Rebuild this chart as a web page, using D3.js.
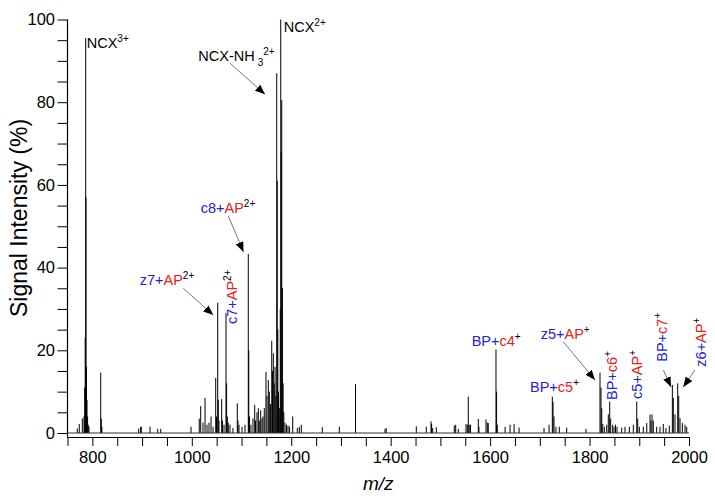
<!DOCTYPE html>
<html>
<head>
<meta charset="utf-8">
<script src="https://cdn.jsdelivr.net/npm/d3@7"></script>
<style>
  html, body { margin: 0; padding: 0; background: #fff; }
  svg { display: block; font-family: "Liberation Sans", Arial, sans-serif; }
</style>
</head>
<body>
<svg id="chart" width="715" height="499"></svg>
<script>
// ---------------- DATA ----------------
const peakMz = [
  769.7, 773.7, 779.8, 783.2, 784.6, 785.6, 786.6, 787.2, 788.2, 789.2, 790.4, 791.8, 793.2,
  816.8, 818.0, 819.2, 893.2, 897.2, 898.4, 916.0, 931.4, 937.5, 998.4, 1015.0,
  1017.9, 1022.5, 1026.6, 1030.6, 1034.6, 1038.7, 1042.7, 1048.1, 1049.7, 1052.1, 1053.3, 1054.7,
  1060.1, 1061.7, 1064.8, 1068.8, 1070.0, 1071.4, 1073.4, 1076.8, 1082.8, 1091.5, 1092.9, 1094.9,
  1101.0, 1107.0, 1113.6, 1114.6, 1116.0, 1119.0, 1123.0, 1126.5, 1128.1, 1131.1, 1133.8, 1135.8,
  1138.6, 1141.2, 1143.2, 1145.8, 1149.2, 1151.2, 1153.9, 1155.9, 1158.4, 1160.8, 1162.4, 1164.0,
  1165.8, 1167.4, 1169.0, 1170.8, 1171.8, 1173.0, 1174.4, 1176.1, 1177.9, 1178.9, 1179.9, 1180.9,
  1182.3, 1183.7, 1185.1, 1187.5, 1190.5, 1193.5, 1196.5, 1203.0, 1212.2, 1216.2, 1220.2,
  1262.5, 1296.7, 1329.3, 1388.6, 1391.0, 1451.5, 1471.6, 1481.1, 1482.3, 1484.5, 1491.8,
  1528.0, 1530.8, 1536.0, 1551.5, 1554.1, 1556.1, 1557.9, 1560.6, 1576.2, 1577.6,
  1591.7, 1594.3, 1596.3, 1611.8, 1613.0, 1614.5, 1630.1, 1640.1, 1648.2, 1658.2,
  1708.4, 1718.5, 1725.1, 1726.5, 1728.5, 1732.5, 1739.2, 1754.0, 1792.9,
  1821.0, 1823.0, 1824.5, 1826.5, 1829.7, 1834.5, 1837.7, 1840.5, 1842.5, 1846.5, 1849.2, 1852.2, 1855.2,
  1864.7, 1871.3, 1880.0, 1888.0, 1894.9, 1896.9, 1900.1, 1908.1, 1915.0, 1921.6, 1923.6, 1925.6, 1928.2,
  1935.0, 1941.7, 1948.3, 1953.7, 1960.4, 1966.5, 1968.5, 1971.9, 1977.3, 1979.3, 1981.9, 1986.6, 1992.0, 1995.4
];
const peakIntensity = [
  1.1, 2.2, 3.5, 4, 11, 23, 95.5, 57, 16, 8, 4, 2, 1.5,
  14.6, 3.5, 1.5, 1.1, 1.5, 1.5, 1.5, 1, 1, 1.5, 3.5,
  6.5, 2.5, 8.5, 2, 2.5, 4, 1.5, 13.3, 4, 31.5, 8, 3,
  8.2, 3, 2, 29, 12, 4, 2.5, 2, 1.2, 7.2, 3, 2,
  1.5, 2, 43.3, 20, 4, 2, 3.5, 6.8, 3, 5, 6, 3,
  5.5, 3.5, 4, 6, 14.8, 9, 12.8, 10, 7, 22.3, 15, 19.3,
  12, 16, 9, 87, 61, 25, 10, 6, 30, 100, 68, 80.5,
  35, 12, 5, 2.5, 2, 1.8, 1.5, 4, 1.2, 1.5, 2,
  1.4, 1.5, 11.8, 1, 1.2, 1.6, 1.5, 2.8, 2.2, 1.2, 1.4,
  1.8, 2, 1, 2.2, 2, 8.8, 2, 2, 3.4, 1.5,
  3.3, 2.5, 2.4, 20.2, 10, 2, 1.5, 2, 2.2, 1.3,
  1.2, 2, 8.8, 7.5, 4, 1.5, 1.5, 1.3, 1,
  14.6, 11, 6, 2.2, 1.5, 2, 4.5, 7.6, 3.5, 2, 1.5, 2, 1.5,
  1.3, 1.5, 1.5, 2, 7.6, 3.5, 1.5, 1.5, 2.4, 4.5, 3, 4.5, 3,
  1.5, 1.5, 2.2, 1.2, 1.8, 11.6, 8.5, 4.5, 12, 9, 3.6, 2.4, 2, 1.5
];
const xTickValues = [750, 800, 850, 900, 950, 1000, 1050, 1100, 1150, 1200, 1250, 1300, 1350, 1400,
  1450, 1500, 1550, 1600, 1650, 1700, 1750, 1800, 1850, 1900, 1950, 2000];
const xTickLabels = [800, 1000, 1200, 1400, 1600, 1800, 2000];
const yTickValues = [0, 5, 10, 15, 20, 25, 30, 35, 40, 45, 50, 55, 60, 65, 70, 75, 80, 85, 90, 95, 100];
const yTickLabels = [0, 20, 40, 60, 80, 100];
const xTitle = "m/z";
const yTitle = "Signal Intensity (%)";

// annotation texts (b = blue, r = red, k = black); peak they label
const annotations = [
  { peak: 786.6, parts: [["NCX","k"],["3+","k","sup"]] },
  { peak: 1178.9, parts: [["NCX","k"],["2+","k","sup"]] },
  { peak: 1170.8, parts: [["NCX-NH","k"],["3","k","sub"],["2+","k","sup"]], arrow: true },
  { peak: 1113.6, parts: [["c8+","b"],["AP","r"],["2+","k","sup"]], arrow: true },
  { peak: 1052.1, parts: [["z7+","b"],["AP","r"],["2+","k","sup"]], arrow: true },
  { peak: 1068.8, parts: [["c7+","b"],["AP","r"],["2+","k","sup"]], vertical: true },
  { peak: 1611.8, parts: [["BP+","b"],["c4","r"],["+","k","sup"]] },
  { peak: 1821.0, parts: [["z5+","b"],["AP","r"],["+","k","sup"]], arrow: true },
  { peak: 1725.1, parts: [["BP+","b"],["c5","r"],["+","k","sup"]] },
  { peak: 1840.5, parts: [["BP+","b"],["c6","r"],["+","k","sup"]], vertical: true },
  { peak: 1894.9, parts: [["c5+","b"],["AP","r"],["+","k","sup"]], vertical: true },
  { peak: 1966.5, parts: [["BP+","b"],["c7","r"],["+","k","sup"]], vertical: true, arrow: true },
  { peak: 1977.3, parts: [["z6+","b"],["AP","r"],["+","k","sup"]], vertical: true, arrow: true }
];

// ---------------- LAYOUT ----------------
// pixel offsets of label / arrow relative to the labelled peak top
const annLayout = {
  786.6:  { label: [1, 10] },
  1178.9: { label: [3, 12.5] },
  1170.8: { label: [-78.4, -12.6], from: [-46.7, -10], to: [-11.7, 21] },
  1113.6: { label: [-47.6, -40.7], from: [-20, -38], to: [-4.8, -2] },
  1052.1: { label: [-78, -17.5], from: [-34.4, -14.4], to: [-4.4, 12.3] },
  1068.8: { label: [11, 11] },
  1611.8: { label: [-24.3, -3.5] },
  1821.0: { label: [-59.3, -33.9], from: [-36.7, -30.9], to: [-5, 7.4] },
  1725.1: { label: [-22.3, -4.9] },
  1840.5: { label: [7.3, -1.6] },
  1894.9: { label: [5, -2.6] },
  1966.5: { label: [-5.8, -23.3], from: [-9, -15], to: [-1.3, 2] },
  1977.3: { label: [28.3, -16.7], from: [17.3, -13.4], to: [5.6, 3.6] }
};
const colors = { b: "#2323d6", r: "#e82020", k: "#000" };

const svg = d3.select("#chart");
const x = d3.scaleLinear().domain([750, 2000]).range([67.5, 689]);
const y = d3.scaleLinear().domain([0, 100]).range([433, 19.5]);
const axisY = 437;

// peaks
const peaks = peakMz.map((m, i) => ({ mz: m, v: peakIntensity[i] }));
svg.append("g").selectAll("line").data(peaks).join("line")
  .attr("x1", d => x(d.mz)).attr("x2", d => x(d.mz))
  .attr("y1", y(0)).attr("y2", d => y(d.v))
  .attr("stroke", "#000").attr("stroke-width", 1);

// baseline of spectrum
svg.append("line")
  .attr("x1", x(750)).attr("x2", x(2000)).attr("y1", y(0)).attr("y2", y(0))
  .attr("stroke", "#333").attr("stroke-width", 1);

// x axis
const xAxis = d3.axisBottom(x).tickValues(xTickValues)
  .tickFormat(d => xTickLabels.includes(d) ? d : "")
  .tickSize(9).tickSizeOuter(0).tickPadding(5.5);
const gx = svg.append("g").attr("transform", `translate(0,${axisY})`).call(xAxis);
gx.select(".domain").attr("stroke", "#000").attr("stroke-width", 1.2);
gx.selectAll(".tick line").attr("stroke", "#000").attr("stroke-width", 1);
gx.selectAll(".tick text").attr("font-size", 16.5).attr("fill", "#000")
  .attr("font-family", "Liberation Sans, Arial, sans-serif");

// y axis
const yAxis = d3.axisLeft(y).tickValues(yTickValues)
  .tickFormat(d => yTickLabels.includes(d) ? d : "")
  .tickSize(10).tickSizeOuter(0).tickPadding(2.5);
const gy = svg.append("g").attr("transform", `translate(${x(750)},0)`).call(yAxis);
gy.select(".domain").remove();
gy.selectAll(".tick line").attr("stroke", "#000").attr("stroke-width", 1);
gy.selectAll(".tick text").attr("font-size", 16.5).attr("fill", "#000")
  .attr("font-family", "Liberation Sans, Arial, sans-serif");
svg.append("line").attr("x1", x(750)).attr("x2", x(750))
  .attr("y1", y(100)).attr("y2", axisY + 0.6)
  .attr("stroke", "#000").attr("stroke-width", 1.2);

// axis titles
svg.append("text").attr("x", (x(750) + x(2000)) / 2).attr("y", 490)
  .attr("text-anchor", "middle").attr("font-size", 19).attr("font-style", "italic")
  .text(xTitle);
svg.append("text")
  .attr("transform", `translate(27,218) rotate(-90)`)
  .attr("text-anchor", "middle").attr("font-size", 23).text(yTitle);

// arrow marker
svg.append("defs").append("marker")
  .attr("id", "arrow").attr("markerUnits", "userSpaceOnUse")
  .attr("viewBox", "0 0 10 8").attr("refX", 10).attr("refY", 4)
  .attr("markerWidth", 10).attr("markerHeight", 8).attr("orient", "auto")
  .append("path").attr("d", "M0,0 L10,4 L0,8 Z").attr("fill", "#000");

// annotations
const peakTop = mz => {
  const p = peaks.find(d => d.mz === mz);
  return [x(p.mz), y(p.v)];
};
annotations.forEach(a => {
  const L = annLayout[a.peak];
  const [px, py] = peakTop(a.peak);
  const lx = px + L.label[0], ly = py + L.label[1];
  const t = svg.append("text").attr("font-size", 14.5)
    .attr("transform", a.vertical ? `translate(${lx},${ly}) rotate(-90)` : `translate(${lx},${ly})`);
  a.parts.forEach(([s, c, kind]) => {
    const ts = t.append("tspan").text(s).attr("fill", colors[c]);
    if (kind === "sup") ts.attr("font-size", 10).attr("baseline-shift", "6");
    if (kind === "sub") ts.attr("font-size", 10).attr("baseline-shift", "-5").attr("dx", 3);
  });
  if (a.arrow) {
    svg.append("line")
      .attr("x1", px + L.from[0]).attr("y1", py + L.from[1])
      .attr("x2", px + L.to[0]).attr("y2", py + L.to[1])
      .attr("stroke", "#555").attr("stroke-width", 0.8)
      .attr("marker-end", "url(#arrow)");
  }
});
</script>
</body>
</html>
